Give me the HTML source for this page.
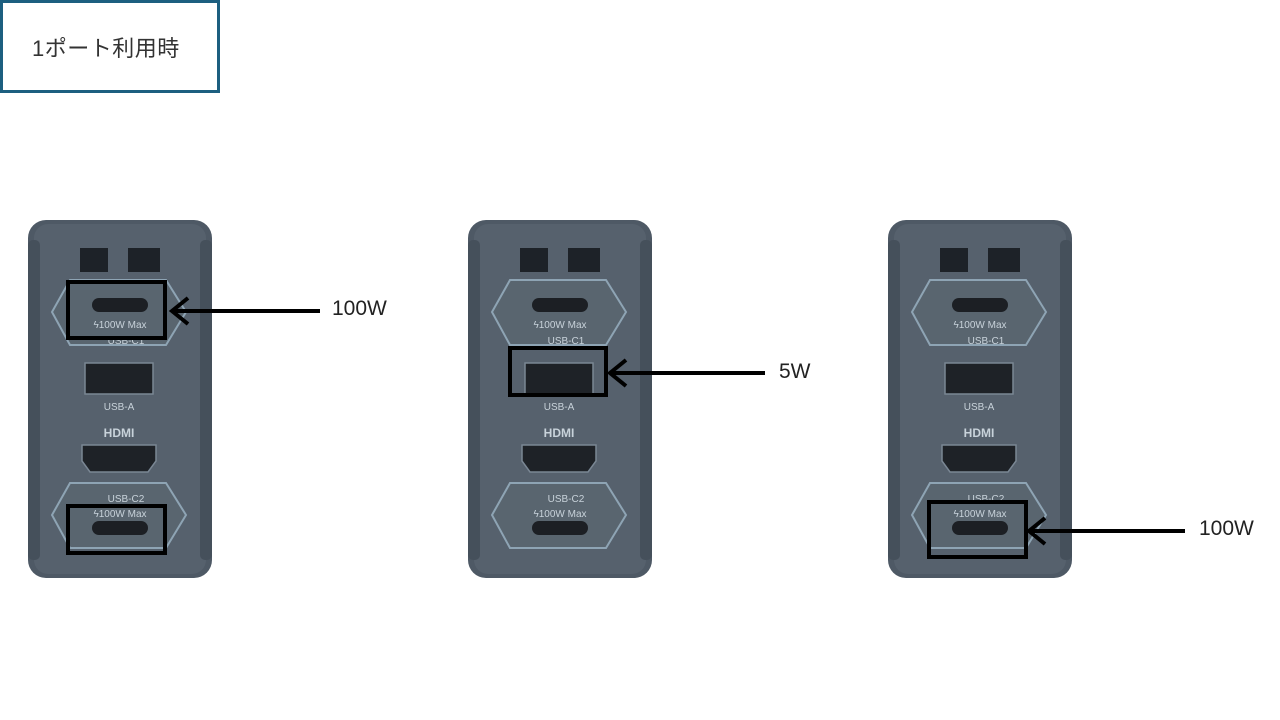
<!DOCTYPE html>
<html><head><meta charset="utf-8"><style>
body{margin:0;width:1280px;height:720px;background:#fff;overflow:hidden;position:relative;font-family:"Liberation Sans","Noto Sans CJK JP",sans-serif}
.lbl{position:absolute;left:0;top:0;width:214px;height:87px;border:3px solid #1d5f80;background:#fff}
.lbl span{position:absolute;left:29px;top:28px;font-size:22px;color:#333;letter-spacing:0.5px}
.w{position:absolute;font-size:21px;color:#222}
</style></head><body>
<div class="lbl"><span>1ポート利用時</span></div>
<svg width="1280" height="720" style="position:absolute;left:0;top:0">
<defs>
<g id="ch">
<rect x="0" y="0" width="184" height="358" rx="18" fill="#4e5965"/>
<rect x="6" y="4" width="172" height="350" rx="14" fill="#56616d"/>
<rect x="0" y="20" width="12" height="320" rx="5" fill="#45505b"/>
<rect x="172" y="20" width="12" height="320" rx="5" fill="#45505b"/>
<rect x="52" y="28" width="28" height="24" fill="#1d2228"/>
<rect x="100" y="28" width="32" height="24" fill="#1d2228"/>
<polygon points="42,60 138,60 158,92 138,125 42,125 24,92" fill="#59656f" stroke="#8ea4b4" stroke-width="2"/>
<rect x="64" y="78" width="56" height="14" rx="7" fill="#1c1f24"/>
<polygon points="42,263 138,263 158,295 138,328 42,328 24,295" fill="#59656f" stroke="#8ea4b4" stroke-width="2"/>
<rect x="64" y="301" width="56" height="14" rx="7" fill="#1c1f24"/>
<rect x="57" y="143" width="68" height="31" fill="#1e2227" stroke="#7a8794" stroke-width="1.5"/>
<path d="M54,225 L128,225 L128,241 L120,252 L62,252 L54,241 Z" fill="#1e2227" stroke="#7a8794" stroke-width="1.5"/>
<g fill="#c8d2da" font-size="10" font-family="Liberation Sans,sans-serif" text-anchor="middle">
<text x="92" y="108">ϟ100W Max</text>
<text x="98" y="124">USB-C1</text>
<text x="91" y="190">USB-A</text>
<text x="91" y="217" font-weight="bold" font-size="12">HDMI</text>
<text x="98" y="282">USB-C2</text>
<text x="92" y="297">ϟ100W Max</text>
</g>
</g>
</defs>
<use href="#ch" x="28" y="220"/>
<use href="#ch" x="468" y="220"/>
<use href="#ch" x="888" y="220"/>
<g fill="none" stroke="#000" stroke-width="4">
<rect x="68" y="282" width="97" height="56"/>
<rect x="68" y="506" width="97" height="47"/>
<rect x="510" y="348" width="96" height="47"/>
<rect x="929" y="502" width="97" height="55"/>
<g stroke-width="4">
<line x1="320" y1="311" x2="172" y2="311"/><polyline points="188,298 172,311 188,324"/>
<line x1="765" y1="373" x2="610" y2="373"/><polyline points="626,360 610,373 626,386"/>
<line x1="1185" y1="531" x2="1029" y2="531"/><polyline points="1045,518 1029,531 1045,544"/>
</g>
</g>
</svg>
<div class="w" style="left:332px;top:297px">100W</div>
<div class="w" style="left:779px;top:360px">5W</div>
<div class="w" style="left:1199px;top:517px">100W</div>
</body></html>
